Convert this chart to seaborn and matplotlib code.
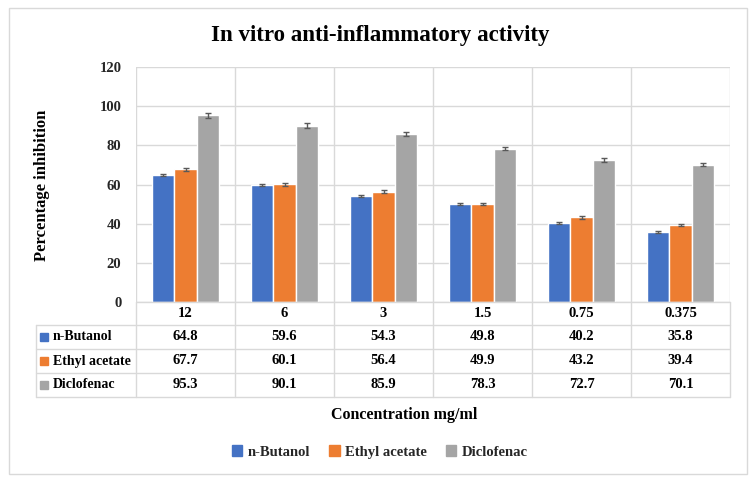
"""
In vitro anti-inflammatory activity - grouped bars with Excel style data table.
"""

import numpy as np
import pandas as pd
import matplotlib.pyplot as plt
from matplotlib.lines import Line2D
from matplotlib.patches import Rectangle, Patch
import seaborn as sns

# data
concentrations = ["12", "6", "3", "1.5", "0.75", "0.375"]
series_names = ["n-Butanol", "Ethyl acetate", "Diclofenac"]
n_butanol = [64.8, 59.6, 54.3, 49.8, 40.2, 35.8]
ethyl_acetate = [67.7, 60.1, 56.4, 49.9, 43.2, 39.4]
diclofenac = [95.3, 90.1, 85.9, 78.3, 72.7, 70.1]
n_butanol_err = [0.6, 0.6, 0.5, 0.5, 0.5, 0.6]
ethyl_acetate_err = [0.9, 0.9, 0.7, 0.6, 0.7, 0.6]
diclofenac_err = [1.2, 1.1, 1.0, 0.9, 1.0, 0.9]
colors = ["#4472C4", "#ED7D31", "#A5A5A5"]

values = [n_butanol, ethyl_acetate, diclofenac]
errors = [n_butanol_err, ethyl_acetate_err, diclofenac_err]

df = pd.DataFrame({
    "Concentration": concentrations * 3,
    "Series": np.repeat(series_names, len(concentrations)),
    "Inhibition": n_butanol + ethyl_acetate + diclofenac,
})

sns.set_theme(style="white")
plt.rcParams["font.family"] = ["Liberation Serif", "DejaVu Serif"]
plt.rcParams["font.weight"] = "bold"

W, H = 756, 482
GRID = "#D9D9D9"
TXT = "#000000"


def fx(x):
    return x / W


def fy(y):
    return 1 - y / H


fig = plt.figure(figsize=(W / 100, H / 100), dpi=100)
ax = fig.add_axes([fx(136), fy(302), fx(730) - fx(136), fy(67) - fy(302)])

sns.barplot(data=df, x="Concentration", y="Inhibition", hue="Series",
            order=concentrations, hue_order=series_names, palette=colors,
            saturation=1, errorbar=None, width=0.667, legend=False, ax=ax, zorder=2)

# error bars
for cont, errs in zip(ax.containers, errors):
    xs = [p.get_x() + p.get_width() / 2 for p in cont.patches]
    ys = [p.get_height() for p in cont.patches]
    ax.errorbar(xs, ys, yerr=errs, fmt="none", ecolor="#595959",
                elinewidth=1.0, capsize=2.5, capthick=1.0, zorder=3)

ax.set_xlim(-0.5, len(concentrations) - 0.5)
ax.set_ylim(0, 120)
ax.set_yticks(range(0, 121, 20))
ax.set_yticklabels([str(v) for v in range(0, 121, 20)], fontsize=10.5, fontweight="bold")
ax.set_xticks(np.arange(-0.5, len(concentrations)), minor=True)
ax.set_xticks([])
ax.tick_params(axis="y", length=0, pad=10.5)
ax.grid(axis="y", color=GRID, lw=1.0, zorder=0)
ax.grid(axis="x", which="minor", color=GRID, lw=1.0, zorder=0)
ax.set_axisbelow(True)
for s in ax.spines.values():
    s.set_visible(False)
ax.set_xlabel("")
ax.set_ylabel("")

# data table below the plot
fig.canvas.draw()
col_edges = [ax.transData.transform((i - 0.5, 0))[0] for i in range(len(concentrations) + 1)]
row_edges = [302, 325, 349, 373, 397]
left = 36

def hline(x0, x1, y):
    fig.add_artist(Line2D([fx(x0), fx(x1)], [fy(y), fy(y)], color=GRID, lw=1.0))

def vline(x, y0, y1):
    fig.add_artist(Line2D([fx(x), fx(x)], [fy(y0), fy(y1)], color=GRID, lw=1.0))

hline(col_edges[0], col_edges[-1], row_edges[0])
for y in row_edges[1:]:
    hline(left, col_edges[-1], y)
for x in col_edges:
    vline(x, row_edges[0], row_edges[-1])
vline(left, row_edges[1], row_edges[-1])

for i, c in enumerate(concentrations):
    xc = (col_edges[i] + col_edges[i + 1]) / 2
    fig.text(fx(xc), fy((row_edges[0] + row_edges[1]) / 2), c, ha="center", va="center",
             fontsize=10.5, fontweight="bold", color=TXT)

for r, (name, vals, col) in enumerate(zip(series_names, values, colors)):
    yc = (row_edges[r + 1] + row_edges[r + 2]) / 2
    fig.add_artist(Rectangle((fx(40), fy(yc + 4)), fx(8), 8 / H, color=col))
    fig.text(fx(53), fy(yc), name, ha="left", va="center", fontsize=10,
             fontweight="bold", color=TXT)
    for i, v in enumerate(vals):
        xc = (col_edges[i] + col_edges[i + 1]) / 2
        fig.text(fx(xc), fy(yc), f"{v:.1f}", ha="center", va="center",
                 fontsize=10.5, fontweight="bold", color=TXT)

# titles and labels
fig.text(fx(380), fy(36), "In vitro anti-inflammatory activity", ha="center", va="center",
         fontsize=16.5, fontweight="bold", color=TXT)
fig.text(fx(42), fy(185), "Percentage inhibition", ha="center", va="center",
         rotation=90, fontsize=12, fontweight="bold", color=TXT)
fig.text(fx(404), fy(415), "Concentration mg/ml", ha="center", va="center",
         fontsize=11.5, fontweight="bold", color=TXT)

handles = [Patch(facecolor=c, edgecolor=c) for c in colors]
fig.legend(handles, series_names, loc="center", bbox_to_anchor=(fx(380), fy(452)),
           ncol=3, frameon=False, handlelength=0.7, handleheight=0.7,
           handletextpad=0.4, columnspacing=1.3, prop={"size": 10.5, "weight": "bold"})

# chart border
fig.add_artist(Rectangle((fx(9), fy(474)), fx(747) - fx(9), (474 - 8) / H,
                         fill=False, edgecolor=GRID, lw=1.0))

fig.savefig("out.png", dpi=100)
